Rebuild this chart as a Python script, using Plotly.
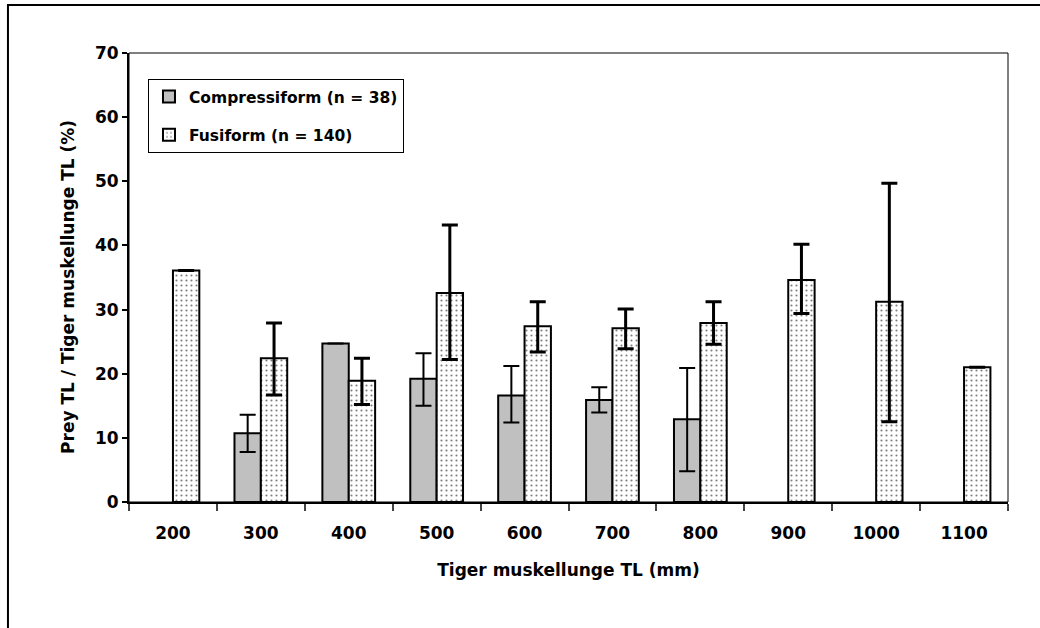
import plotly.graph_objects as go

# Tiger muskellunge total-length classes (mm)
size_classes = ["200", "300", "400", "500", "600", "700", "800", "900", "1000", "1100"]

# Compressiform prey: mean prey TL / predator TL (%) and error bar extents
compress_mean = [None, 10.7, 24.7, 19.2, 16.6, 15.9, 12.9, None, None, None]
compress_plus = [None, 2.9, None, 4.0, 4.6, 2.0, 8.0, None, None, None]
compress_minus = [None, 2.9, None, 4.2, 4.2, 1.95, 8.1, None, None, None]

# Fusiform prey
fusi_mean = [36.1, 22.4, 18.9, 32.6, 27.4, 27.1, 27.9, 34.6, 31.2, 21.0]
fusi_plus = [None, 5.5, 3.5, 10.6, 3.8, 3.0, 3.3, 5.6, 18.5, None]
fusi_minus = [None, 5.7, 3.7, 10.4, 4.0, 3.2, 3.3, 5.2, 18.7, None]

y_ticks = [0, 10, 20, 30, 40, 50, 60, 70]

FONT = "DejaVu Sans"

fig = go.Figure()

fig.add_trace(go.Bar(
    name="Compressiform (n = 38)",
    x=size_classes,
    y=compress_mean,
    marker=dict(color="#C0C0C0", line=dict(color="black", width=2)),
    error_y=dict(type="data", symmetric=False, array=compress_plus,
                 arrayminus=compress_minus, color="black", thickness=2, width=8),
    legendgroup="c",
))

fig.add_trace(go.Bar(
    name="Fusiform (n = 140)",
    x=size_classes,
    y=fusi_mean,
    marker=dict(color="white", line=dict(color="black", width=2),
                pattern=dict(shape=".", fgcolor="black", bgcolor="white",
                             size=5, solidity=0.15)),
    error_y=dict(type="data", symmetric=False, array=fusi_plus,
                 arrayminus=fusi_minus, color="black", thickness=3, width=8),
    legendgroup="f",
))

# thin box around the plotting area
fig.add_shape(type="rect", xref="paper", yref="paper", x0=0, x1=1, y0=0, y1=1,
              line=dict(color="black", width=1), layer="below")
# outer frame around the whole figure
fig.add_shape(type="rect", xref="paper", yref="paper",
              x0=-0.1377, x1=1.2, y0=-0.5, y1=1.1069,
              line=dict(color="black", width=2))

# y-axis title, placed slightly below the plot-area midpoint
fig.add_annotation(
    text="Prey TL / Tiger muskellunge TL (%)",
    xref="paper", yref="paper", x=-0.0694, y=0.479,
    xanchor="center", yanchor="middle", textangle=-90, showarrow=False,
    font=dict(family=FONT, size=17, color="black", weight="bold"),
)

fig.update_layout(
    width=1040, height=628,
    margin=dict(l=129, r=32, t=53, b=126),
    paper_bgcolor="white", plot_bgcolor="white",
    barmode="group", bargap=0.4, bargroupgap=0,
    font=dict(family=FONT, size=17, color="black", weight="bold"),
    showlegend=True,
    legend=dict(
        x=0.0216, y=0.942, xanchor="left", yanchor="top",
        bgcolor="white", bordercolor="black", borderwidth=1,
        font=dict(family=FONT, size=15.5, color="black", weight="bold"),
        traceorder="grouped", tracegroupgap=15,
    ),
    xaxis=dict(
        type="category",
        showline=True, linecolor="black", linewidth=2,
        ticks="outside", tickson="boundaries", ticklen=7,
        tickcolor="#444", tickwidth=1.5,
        ticklabelstandoff=15,
        showgrid=False, zeroline=False,
        title=dict(text="Tiger muskellunge TL (mm)", standoff=22,
                   font=dict(family=FONT, size=17, weight="bold")),
    ),
    yaxis=dict(
        range=[0, 70], tickvals=y_ticks,
        showline=True, linecolor="black", linewidth=2,
        ticks="outside", ticklen=5, tickcolor="black", tickwidth=1.5,
        showgrid=False, zeroline=False,
    ),
)

fig.write_html("out.html")
